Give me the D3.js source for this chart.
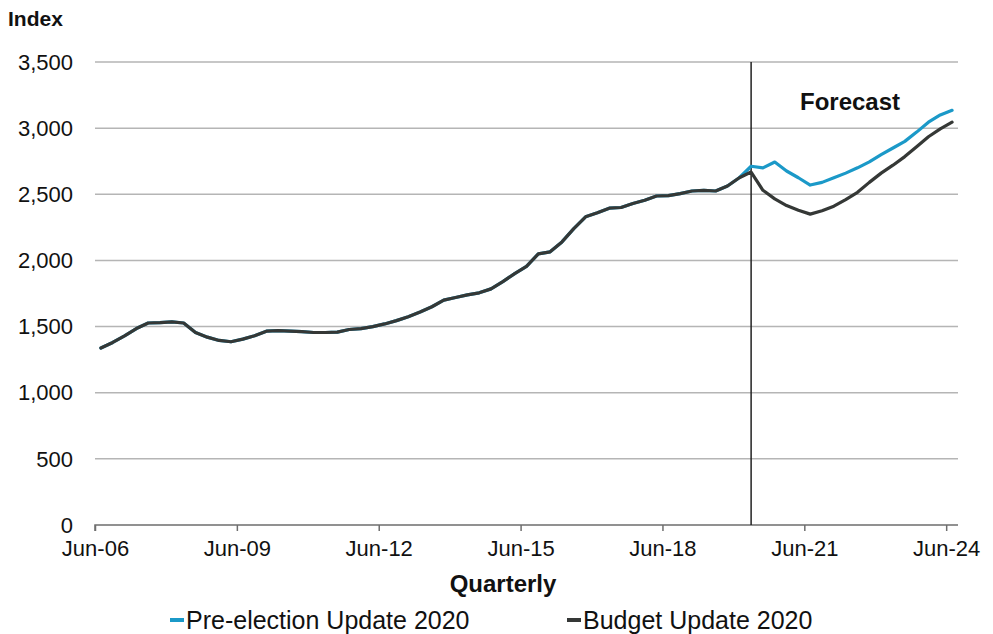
<!DOCTYPE html>
<html>
<head>
<meta charset="utf-8">
<script src="https://cdn.jsdelivr.net/npm/d3@7"></script>
<style>
  body { margin: 0; background: #fff; }
  svg { font-family: "Liberation Sans", Arial, sans-serif; }
</style>
</head>
<body>
<div id="chart"></div>
<script>
// quarterly index, Jun-06 .. Jun-24
// -----------------------------------------------
const quarters = d3.timeMonth.range(new Date(2006, 5, 1), new Date(2024, 6, 1), 3).map(d3.timeFormat('%b-%y'));
const tickLabels = ['Jun-06', 'Jun-09', 'Jun-12', 'Jun-15', 'Jun-18', 'Jun-21', 'Jun-24'];
const yTicks = [0, 500, 1000, 1500, 2000, 2500, 3000, 3500];

// history shared by both updates (Jun-06 .. Dec-19)
const history = [
  1338, 1380, 1430, 1485, 1527, 1530, 1535, 1527, 1455, 1420, 1395, 1385,
  1405, 1430, 1465, 1470, 1466, 1462, 1455, 1455, 1458, 1478, 1485, 1500,
  1520, 1545, 1575, 1610, 1650, 1700, 1720, 1740, 1755, 1785, 1840, 1900,
  1955, 2050, 2065, 2140, 2240, 2330, 2360, 2395, 2400, 2430, 2455, 2487,
  2490, 2505, 2525, 2530, 2525, 2563, 2625
];
// Mar-20 .. Jun-24
const preElection = [
  2712, 2700, 2744, 2676, 2625, 2570, 2590, 2625, 2660, 2700, 2745, 2800,
  2850, 2900, 2970, 3045, 3100, 3135
];
const budget = [
  2668, 2530, 2465, 2415, 2380, 2350, 2375, 2410, 2460, 2515, 2590, 2660,
  2720, 2785, 2860, 2935, 2995, 3045
];
const series = [
  { name: 'Pre-election Update 2020', color: '#1b99c8', values: history.concat(preElection) },
  { name: 'Budget Update 2020', color: '#353836', values: history.concat(budget) }
];
const forecastStart = history.length; // Mar-20

// -----------------------------------------------
const width = 993, height = 634;
const margin = { top: 62, right: 35, bottom: 109, left: 95 };

const svg = d3.select('#chart').append('svg')
  .attr('width', width)
  .attr('height', height);

// category edges, points sit in the middle of each quarter
const xEdge = d3.scaleLinear()
  .domain([0, quarters.length])
  .range([margin.left, width - margin.right]);
const xMid = (i) => xEdge(i + 0.5);

const y = d3.scaleLinear()
  .domain([0, 3500])
  .range([height - margin.bottom, margin.top]);

// gridlines
svg.append('g')
  .selectAll('line')
  .data(yTicks.slice(1))
  .join('line')
  .attr('x1', margin.left)
  .attr('x2', width - margin.right)
  .attr('y1', (d) => y(d))
  .attr('y2', (d) => y(d))
  .attr('stroke', '#b5b5b5')
  .attr('stroke-width', 1.5);

// y labels
svg.append('g')
  .selectAll('text')
  .data(yTicks)
  .join('text')
  .attr('x', 73)
  .attr('y', (d) => y(d))
  .attr('dy', '0.35em')
  .attr('text-anchor', 'end')
  .attr('font-size', 22)
  .attr('fill', '#111')
  .text(d3.format(','));

svg.append('text')
  .attr('x', 8)
  .attr('y', 26)
  .attr('font-size', 21)
  .attr('font-weight', 'bold')
  .attr('fill', '#111')
  .text('Index');

// x axis
const tickIdx = tickLabels.map((l) => quarters.indexOf(l));
const gx = svg.append('g')
  .attr('transform', `translate(0,${y(0)})`)
  .call(
    d3.axisBottom(xEdge)
      .tickValues(tickIdx)
      .tickFormat((i) => quarters[i])
      .tickSizeOuter(0)
      .tickSize(6)
  );
gx.select('.domain').attr('stroke', '#6e6e6e').attr('stroke-width', 1.5)
  .attr('d', `M${xEdge(0)},6V0H${xEdge(quarters.length)}`);
gx.selectAll('.tick line').attr('stroke', '#6e6e6e').attr('stroke-width', 1.5);
gx.selectAll('.tick text')
  .attr('font-size', 22)
  .attr('font-family', '"Liberation Sans", Arial, sans-serif')
  .attr('fill', '#111')
  .attr('dy', '1.0em');

svg.append('text')
  .attr('x', 503)
  .attr('y', 592)
  .attr('text-anchor', 'middle')
  .attr('font-size', 24)
  .attr('font-weight', 'bold')
  .attr('fill', '#111')
  .text('Quarterly');

// forecast divider
svg.append('line')
  .attr('x1', xMid(forecastStart))
  .attr('x2', xMid(forecastStart))
  .attr('y1', y(3500))
  .attr('y2', y(0))
  .attr('stroke', '#222')
  .attr('stroke-width', 1.5);

svg.append('text')
  .attr('x', 800)
  .attr('y', 110)
  .attr('font-size', 24)
  .attr('font-weight', 'bold')
  .attr('fill', '#111')
  .text('Forecast');

// lines
const line = d3.line()
  .x((d, i) => xMid(i))
  .y((d) => y(d));

svg.append('g')
  .selectAll('path')
  .data(series)
  .join('path')
  .attr('fill', 'none')
  .attr('stroke', (d) => d.color)
  .attr('stroke-width', 3.2)
  .attr('stroke-linejoin', 'round')
  .attr('stroke-linecap', 'round')
  .attr('d', (d) => line(d.values));

// legend
const legendX = [170, 567];
const lg = svg.append('g')
  .selectAll('g')
  .data(series)
  .join('g')
  .attr('transform', (d, i) => `translate(${legendX[i]},620)`);
lg.append('line')
  .attr('x1', 0)
  .attr('x2', 14)
  .attr('stroke', (d) => d.color)
  .attr('stroke-width', 4);
lg.append('text')
  .attr('x', 16)
  .attr('dy', '0.35em')
  .attr('font-size', 25)
  .attr('fill', '#111')
  .text((d) => d.name);
</script>
</body>
</html>
